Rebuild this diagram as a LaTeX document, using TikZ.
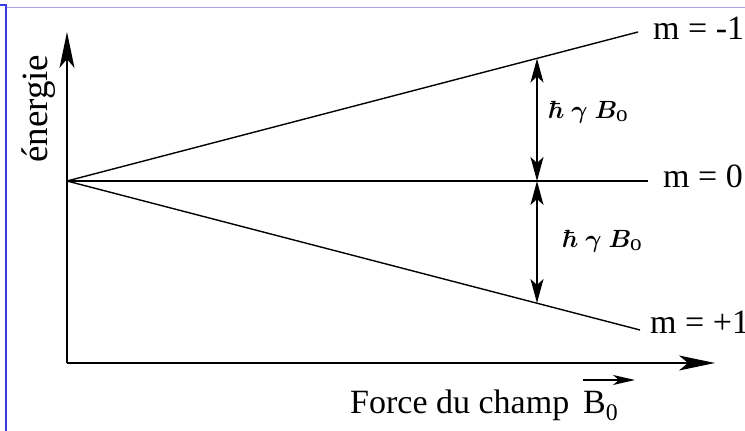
\documentclass[tikz,border=0pt]{standalone}
\usepackage{amsmath,bm}
\usepackage[no-math]{fontspec}
\setmainfont{Liberation Serif}
\usepackage{xcolor}
\definecolor{cMain}{HTML}{000000}
\definecolor{cFrame}{HTML}{3B3BE0}
\definecolor{cFrameLight}{HTML}{A3A3E6}
\usetikzlibrary{positioning,arrows.meta}
\tikzset{
  node-label/.style={inner sep=0pt,anchor=base west,font=\fontsize{34}{40}\selectfont},
  node-gap/.style={inner sep=0pt,anchor=base west,font=\fontsize{33}{38}\selectfont},
  level-line/.style={line width=1.4pt,draw=cMain},
  arrow-axis/.style={-{Stealth[length=36pt,width=15pt,inset=9pt]},line width=1.6pt,draw=cMain},
  arrow-gap/.style={{Stealth[length=24pt,width=13pt,inset=6pt]}-{Stealth[length=24pt,width=13pt,inset=6pt]},line width=1.4pt,draw=cMain},
  arrow-vec/.style={-{Stealth[length=22pt,width=10pt,inset=6pt]},line width=1.2pt,draw=cMain},
}

\begin{document}
\begin{tikzpicture}[x=1pt,y=-1pt]
  \useasboundingbox (0,0) rectangle (745,431);
  % cadre
  \draw[cFrame,line width=2.5pt] (0,5) -- (7,5) (6,5) -- (6,431);
  \draw[cFrameLight,line width=1pt] (7,7) -- (745,7);

  % axes
  \coordinate (corner) at (67,363);
  \coordinate (etop) at (67,32);
  \coordinate (bend) at (715,363);
  \draw[arrow-axis] (corner) -- (etop);
  \draw[arrow-axis] (corner) -- (bend);

  % niveaux
  \coordinate (origin) at (67,181);
  \coordinate (mneg) at (638,32);
  \coordinate (mzero) at (648,181);
  \coordinate (mpos) at (640,330);
  \draw[level-line] (origin) -- (mneg);
  \draw[level-line] (origin) -- (mzero);
  \draw[level-line] (origin) -- (mpos);

  % ecarts
  \coordinate (split-top) at (537,58.5);
  \coordinate (split-mid) at (537,181);
  \coordinate (split-bot) at (537,303);
  \draw[arrow-gap] (split-mid) -- (split-top);
  \draw[arrow-gap] (split-mid) -- (split-bot);

  \node[node-label] (lab-neg) at (653,39) {m = -1};
  \node[node-label] (lab-zero) at (663,187) {m = 0};
  \node[node-label] (lab-pos) at (650,333) {m = +1};
  \node[node-gap] (gap-top) at (548,118) {$\bm{\hbar}\;\bm{\gamma}\;\bm{B}_{\text{o}}$};
  \node[node-gap] (gap-bot) at (562,247) {$\bm{\hbar}\;\bm{\gamma}\;\bm{B}_{\text{o}}$};
  \node[node-label,rotate=90,font=\fontsize{37}{42}\selectfont] (lab-y) at (47,163) {énergie};
  \node[node-label] (lab-x) at (350,413) {Force du champ};
  \node[node-label] (lab-vec) at (583,413) {B\textsubscript{0}};
  \coordinate (vec-start) at (583,380);
  \coordinate (vec-end) at (635,380);
  \draw[arrow-vec] (vec-start) -- (vec-end);
\end{tikzpicture}
\end{document}
